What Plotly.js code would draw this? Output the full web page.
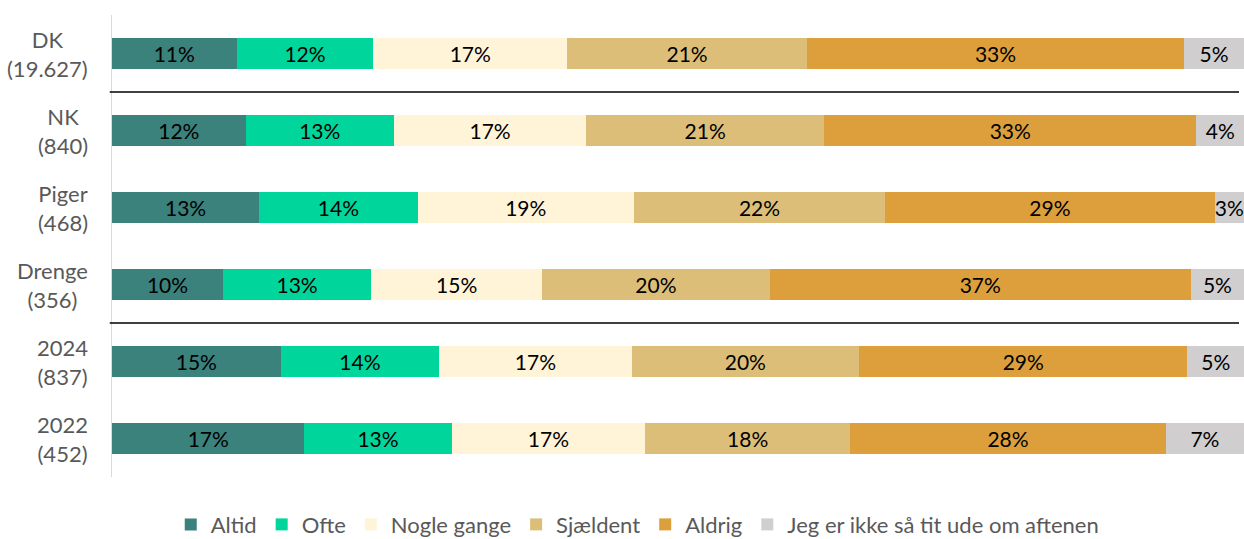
<!DOCTYPE html>
<html>
<head>
<meta charset="utf-8">
<script src="https://cdn.plot.ly/plotly-3.0.1.min.js"></script>
<style>
  html, body { margin: 0; padding: 0; background: #fff; }
  #chart { width: 1244px; height: 539px; }
</style>
</head>
<body>
<div id="chart"></div>
<script>
// grupper (top til bund)
const grupper = ['DK<br>(19.627)', 'NK<br>(840)', 'Piger<br>(468)', 'Drenge<br>(356)', '2024<br>(837)', '2022<br>(452)'];

// andele i procent, aflæst af figuren
const altid      = [11.0, 11.8, 13.0,  9.8, 14.9, 17.0];
const ofte       = [12.1, 13.1, 14.0, 13.1, 14.0, 13.0];
const nogleGange = [17.1, 17.0, 19.1, 15.1, 17.0, 17.1];
const sjaeldent  = [21.2, 21.0, 22.2, 20.1, 20.1, 18.1];
const aldrig     = [33.3, 32.9, 29.1, 37.2, 29.0, 27.9];
const ikkeUde    = [ 5.3,  4.2,  2.6,  4.7,  5.0,  6.9];

const serier = [
    { navn: 'Altid', vaerdier: altid, farve: '#3b817c' },
    { navn: 'Ofte', vaerdier: ofte, farve: '#00d69c' },
    { navn: 'Nogle gange', vaerdier: nogleGange, farve: '#fff4d8' },
    { navn: 'Sjældent', vaerdier: sjaeldent, farve: '#dcbe78' },
    { navn: 'Aldrig', vaerdier: aldrig, farve: '#dc9f3b' },
    { navn: 'Jeg er ikke så tit ude om aftenen', vaerdier: ikkeUde, farve: '#d0cece' }
];

const data = serier.map(s => ({
    type: 'bar',
    orientation: 'h',
    name: s.navn,
    y: grupper,
    x: s.vaerdier,
    marker: { color: s.farve, line: { width: 0 } },
    texttemplate: '%{x:.0f}%',
    textposition: 'inside',
    insidetextanchor: 'middle',
    textangle: 0,
    constraintext: 'none',
    textfont: { family: 'Lato', size: 21, color: '#000000' },
    hoverinfo: 'name+x'
}));

// kategorietiketter som annoteringer, så linjerne centreres som i Excel
const etiketter = grupper.map(g => ({
    xref: 'paper', yref: 'y',
    x: -0.0195, y: g,
    xanchor: 'right', yanchor: 'middle',
    align: 'center',
    text: g,
    showarrow: false,
    font: { family: 'Lato', size: 22, color: '#595959' }
}));

const layout = {
    width: 1244,
    height: 539,
    barmode: 'stack',
    bargap: 0.6,
    margin: { l: 112, r: 0, t: 15, b: 61.5, autoexpand: false },
    paper_bgcolor: '#ffffff',
    plot_bgcolor: '#ffffff',
    font: { family: 'Lato', color: '#595959' },
    xaxis: { range: [0, 100], visible: false, fixedrange: true },
    yaxis: {
        autorange: 'reversed',
        showgrid: false,
        zeroline: false,
        showline: true,
        linecolor: '#d9d9d9',
        linewidth: 1.5,
        ticks: '',
        showticklabels: false
    },
    showlegend: true,
    legend: {
        orientation: 'h',
        x: 0.464,
        xanchor: 'center',
        y: -0.103,
        yanchor: 'middle',
        traceorder: 'normal',
        itemwidth: 30,
        font: { family: 'Lato', size: 22, color: '#595959' }
    },
    annotations: etiketter,
    shapes: [0.5, 3.5].map(yy => ({
        type: 'line',
        xref: 'paper', yref: 'y',
        x0: -0.002, x1: 0.9956,
        y0: yy, y1: yy,
        line: { color: '#000000', width: 1.5 }
    }))
};

Plotly.newPlot('chart', data, layout, { displayModeBar: false, staticPlot: true });
</script>
</body>
</html>
